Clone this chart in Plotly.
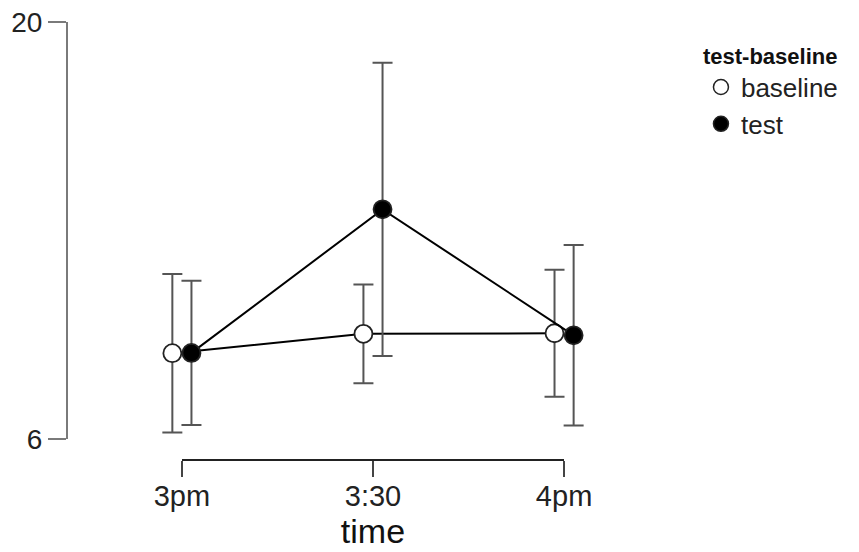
import numpy as np
import plotly.graph_objects as go

# ---- data ----
times = ["3pm", "3:30", "4pm"]
baseline_mean = [8.88, 9.53, 9.55]
baseline_err = [2.66, 1.66, 2.13]
test_mean = [8.89, 13.71, 9.48]
test_err = [2.42, 4.92, 3.03]
y_ticks = [6, 20]

FONT = "Liberation Sans, Arial, sans-serif"
AXIS_COL = "#7a7a7a"
ERR_COL = "#555555"
dodge = 0.05
pos = np.arange(len(times))

OFF = 8  # page body margin
W, H = 859 - OFF, 552 - OFF
ml, mr, mt = 59.5, 211, 14
plot_bottom = 452          # y of x-axis line (figure coords)
mb = H - plot_bottom
pw = W - ml - mr
ph = H - mt - mb
x0_px, x2_px = 181.5 - OFF, 564.0 - OFF
scale = (x2_px - x0_px) / 2.0
r0 = -(x0_px - ml) / scale
r1 = r0 + pw / scale
y6_px = 439 - OFF

fig = go.Figure()

def add_series(name, mean, err, fill, offset):
    fig.add_trace(go.Scatter(
        x=pos + offset, y=mean, mode="lines+markers", name=name,
        showlegend=False,
        line=dict(color="black", width=2),
        marker=dict(size=18, color=fill, line=dict(color="#222222", width=1.8)),
        error_y=dict(type="data", array=err, visible=True,
                     color=ERR_COL, thickness=2, width=10),
    ))
    fig.add_trace(go.Scatter(
        x=[None], y=[None], mode="markers", name=name,
        marker=dict(size=15, color=fill, line=dict(color="#222222", width=1.5)),
    ))

add_series("baseline", baseline_mean, baseline_err, "white", -dodge)
add_series("test", test_mean, test_err, "black", dodge)

# invisible trace to host the range-frame x axis
fig.add_trace(go.Scatter(x=[0, 2], y=[None, None], xaxis="x2", yaxis="y",
                         showlegend=False, hoverinfo="skip", mode="markers"))

fig.update_layout(
    width=W, height=H, autosize=False,
    margin=dict(l=ml, r=mr, t=mt, b=mb, pad=0, autoexpand=False),
    paper_bgcolor="white", plot_bgcolor="rgba(0,0,0,0)",
    font=dict(family=FONT, size=28, color="#222222"),
    showlegend=True,
    legend=dict(
        title=dict(text="<b>test-baseline</b>", font=dict(size=22, color="#111111")),
        font=dict(size=26, color="#222222"),
        x=(701 - OFF - ml) / pw, y=1 - (35 - OFF - mt) / ph,
        xanchor="left", yanchor="top", tracegroupgap=0,
        bgcolor="rgba(0,0,0,0)", itemsizing="trace",
    ),
    xaxis=dict(domain=[0, 1], range=[r0, r1], visible=False, fixedrange=True,
               automargin=False),
    xaxis2=dict(
        domain=[(x0_px - ml) / pw, (x2_px - ml) / pw], range=[0, 2],
        anchor="free", position=0, side="bottom", automargin=False,
        tickvals=list(range(len(times))), ticktext=times,
        showline=True, linecolor="#222222", linewidth=2,
        ticks="outside", ticklen=16, tickwidth=2, tickcolor="#444444",
        ticklabelstandoff=-6, ticklabeloverflow="allow",
        showgrid=False, zeroline=False,
        tickfont=dict(size=29, color="#222222"),
        title=dict(text="time", font=dict(size=34, color="#111111"), standoff=4),
    ),
    yaxis=dict(
        domain=[(plot_bottom - y6_px) / ph, 1], range=[6, 20], automargin=False,
        tickvals=y_ticks, ticktext=[str(v) for v in y_ticks],
        showline=True, linecolor=AXIS_COL, linewidth=2,
        ticks="outside", ticklen=18, tickwidth=2, tickcolor=AXIS_COL,
        ticklabeloverflow="allow",
        showgrid=False, zeroline=False,
        tickfont=dict(size=28, color="#222222"),
    ),
)

fig.write_html("out.html")
